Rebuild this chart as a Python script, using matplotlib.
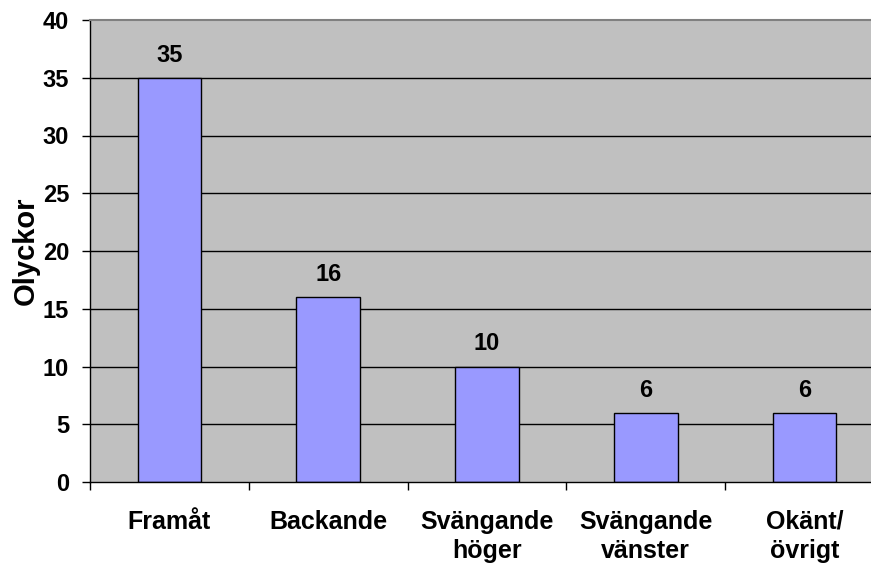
import matplotlib
matplotlib.use("Agg")
import matplotlib.pyplot as plt
import numpy as np

plt.rcParams['font.family'] = ['Liberation Sans', 'DejaVu Sans']
plt.rcParams['font.weight'] = 'bold'

categories = ["Framåt", "Backande", "Svängande\nhöger", "Svängande\nvänster", "Okänt/\növrigt"]
values = [35, 16, 10, 6, 6]
yticks = [0, 5, 10, 15, 20, 25, 30, 35, 40]

W, H = 871, 565
fig = plt.figure(figsize=(W / 100, H / 100), dpi=100)
# plot area runs past the right edge of the canvas
ax = fig.add_axes([90 / W, 1 - 482 / H, (884 - 90) / W, (482 - 20) / H])
ax.set_facecolor('#C0C0C0')

x = np.arange(len(categories))
ax.set_xlim(-0.5, len(categories) - 0.5)
ax.set_ylim(0, 40)

for y in yticks[1:-1]:
    ax.axhline(y, color='black', lw=1, zorder=1)

ax.bar(x, values, width=0.40, color='#9999FF', edgecolor='black', lw=1, zorder=2)
for xi, v in zip(x, values):
    ax.annotate(str(v), (xi, v), xytext=(0, 16), textcoords='offset pixels',
                ha='center', va='baseline', fontsize=17, fontweight='bold')

ax.set_yticks(yticks)
ax.set_yticklabels([str(t) for t in yticks], fontsize=17, fontweight='bold')
ax.set_xticks(x)
ax.set_xticklabels(categories, fontsize=18, fontweight='bold', linespacing=1.25)
ax.tick_params(axis='x', length=0, pad=20)
ax.tick_params(axis='y', length=6, width=1, pad=9)

# category boundary ticks on the x axis
ax.set_xticks(np.arange(len(categories) + 1) - 0.5, minor=True)
ax.tick_params(axis='x', which='minor', length=6, width=1)

ax.spines['right'].set_visible(False)
ax.spines['top'].set_color('#808080')
ax.spines['top'].set_linewidth(1.5)
for s in ['left', 'bottom']:
    ax.spines[s].set_linewidth(1)

ax.set_ylabel("Olyckor", fontsize=21, fontweight='bold', labelpad=2)

fig.savefig("out.png", dpi=100, facecolor='white')
